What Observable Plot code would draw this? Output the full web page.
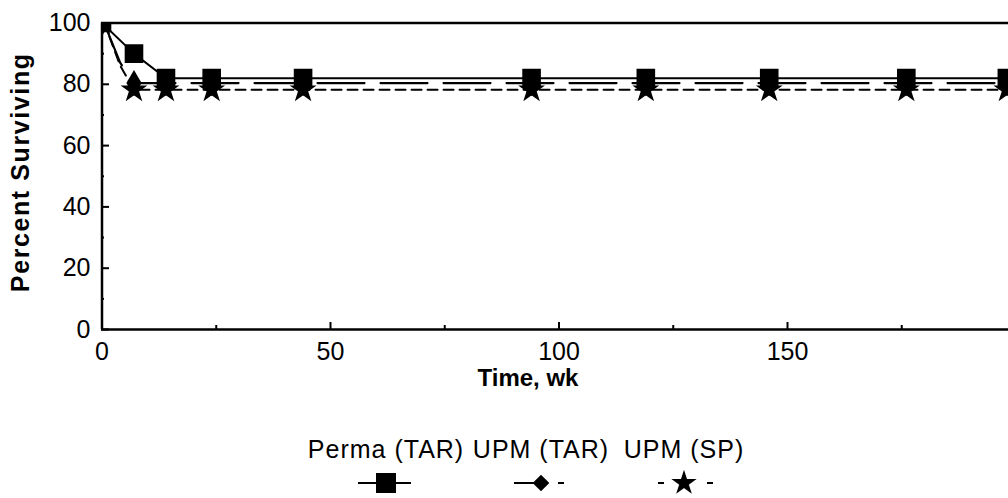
<!DOCTYPE html>
<html><head><meta charset="utf-8">
<script src="https://cdn.jsdelivr.net/npm/d3@7"></script>
<script src="https://cdn.jsdelivr.net/npm/@observablehq/plot@0.6"></script>
<style>
body{margin:0;background:#fff;font-family:"Liberation Sans",Arial,sans-serif;}
#wrap{position:relative;width:1008px;height:498px;overflow:hidden;background:#fff;}
#wrap svg{display:block;}
</style></head><body><div id="wrap"></div>
<script>
// ---- data ----
const seriesNames = ["Perma (TAR)", "UPM (TAR)", "UPM (SP)"];
const markerWeeks = [0, 7, 14, 24, 44, 94, 119, 146, 176, 198];
const permaTar = [100, 90, 82, 82, 82, 82, 82, 82, 82, 82];
const upmTar   = [100, 80.4, 80.4, 80.4, 80.4, 80.4, 80.4, 80.4, 80.4, 80.4];
const upmSp    = [100, 78.2, 78.2, 78.2, 78.2, 78.2, 78.2, 78.2, 78.2, 78.2];
// early part of the curves (no markers)
const earlyWeeks  = [1, 4];
const upmTarEarly = [98, 87];
const upmSpEarly  = [98, 86];
const yTicks = [0, 20, 40, 60, 80, 100];
const yMinor = [10, 30, 50, 70, 90];
const xTicks = [0, 50, 100, 150];
const xMinor = [25, 75, 125, 175];
const yLabel = "Percent Surviving";
const xLabel = "Time, wk";

// ---- build tables ----
const markers = (vals, s) => markerWeeks.map((w, i) => ({week: w, value: vals[i], series: s}));
const withEarly = (vals, early, s) => {
  const pts = markers(vals, s).concat(earlyWeeks.map((w, i) => ({week: w, value: early[i], series: s})));
  return pts.sort((a, b) => a.week - b.week);
};
const mPerma = markers(permaTar, seriesNames[0]);
const mTar = markers(upmTar, seriesNames[1]);
const mSp = markers(upmSp, seriesNames[2]);
const lPerma = mPerma;
const lTar = withEarly(upmTar, upmTarEarly, seriesNames[1]);
const lSp = withEarly(upmSp, upmSpEarly, seriesNames[2]);

const styles = {
  "Perma (TAR)": {dash: null, symbol: "square", r: 10.5},
  "UPM (TAR)":   {dash: "47,16", symbol: "diamond", r: 8},
  "UPM (SP)":    {dash: "10,6", symbol: "star", r: 7}
};

const chart = Plot.plot({
  width: 1008, height: 410,
  marginLeft: 101, marginRight: 0, marginTop: 22.5, marginBottom: 81,
  x: {domain: [0, 200], range: [101.5, 1015.5]},
  y: {domain: [0, 100], range: [329, 22.5]},
  style: {fontFamily: "'Liberation Sans', Arial, sans-serif", fontSize: "25px", color: "black", background: "white"},
  marks: [
    Plot.axisY({ticks: yTicks, tickSize: 0, tickPadding: 11, label: null, fontSize: 25}),
    Plot.axisY({ticks: yTicks, tickSize: -8, text: null, label: null, strokeWidth: 2}),
    Plot.axisY({ticks: yMinor, tickSize: -3, text: null, label: null, strokeWidth: 2}),
    Plot.axisX({ticks: xTicks, tickSize: 0, tickPadding: 13, label: null, fontSize: 25}),
    Plot.axisX({ticks: xTicks, tickSize: -7, text: null, label: null, strokeWidth: 2}),
    Plot.axisX({ticks: xMinor, tickSize: -4, text: null, label: null, strokeWidth: 2}),
    Plot.ruleX([0], {stroke: "black", strokeWidth: 2.5}),
    Plot.ruleY([0], {stroke: "black", strokeWidth: 2.5}),
    Plot.ruleY([100], {stroke: "black", strokeWidth: 2.5}),
    Plot.line(lSp, {x: "week", y: "value", stroke: "black", strokeWidth: 2, strokeDasharray: styles["UPM (SP)"].dash, clip: true}),
    Plot.line(lTar, {x: "week", y: "value", stroke: "black", strokeWidth: 2.2, strokeDasharray: styles["UPM (TAR)"].dash, clip: true}),
    Plot.line(lPerma, {x: "week", y: "value", stroke: "black", strokeWidth: 2, clip: true}),
    Plot.dot(mSp, {x: "week", y: "value", symbol: () => "star", r: styles["UPM (SP)"].r, fill: "black", stroke: "black", strokeWidth: 1.5, clip: true}),
    Plot.dot(mTar, {x: "week", y: "value", symbol: () => "diamond", r: styles["UPM (TAR)"].r, fill: "black", clip: true}),
    Plot.dot(mPerma, {x: "week", y: "value", symbol: () => "square", r: styles["Perma (TAR)"].r, fill: "black", clip: true}),
    Plot.text([yLabel], {text: d => d, frameAnchor: "left", textAnchor: "middle", dx: -81, dy: -4, rotate: -90, fontWeight: "bold", fontSize: 25}),
    Plot.text([xLabel], {text: d => d, frameAnchor: "bottom", textAnchor: "middle", dx: -27, dy: 56, fontWeight: "bold", fontSize: 24})
  ]
});
d3.select(chart).selectAll("text").filter(function(){ return this.textContent === yLabel; })
  .attr("letter-spacing", "1.6px");
document.getElementById("wrap").appendChild(chart);

// ---- legend (below the plot) ----
const legendCenters = [386, 541, 684];
const legend = d3.select("#wrap").append("svg").attr("width", 1008).attr("height", 88)
  .style("font-family", "'Liberation Sans', Arial, sans-serif");
const symMap = {square: d3.symbolSquare, diamond: d3.symbolDiamond2, star: d3.symbolStar};
const legLines = {
  "Perma (TAR)": {x1: -28, x2: 25, dash: null},
  "UPM (TAR)": {x1: -27, x2: 24, dash: "30,14,6,200"},
  "UPM (SP)": {x1: -26, x2: 30, dash: "6,43,6,100"}
};
const legSize = {"UPM (TAR)": 7.5 * 7.5 * Math.PI, "UPM (SP)": 6.5 * 6.5 * Math.PI};
seriesNames.forEach((name, i) => {
  const g = legend.append("g").attr("transform", `translate(${legendCenters[i]},0)`);
  g.append("text").attr("x", 0).attr("y", 48).attr("text-anchor", "middle")
    .attr("font-size", 25).attr("letter-spacing", "1px").text(name);
  const L = legLines[name];
  g.append("line").attr("x1", L.x1).attr("x2", L.x2).attr("y1", 73).attr("y2", 73)
    .attr("stroke", "black").attr("stroke-width", 2).attr("stroke-dasharray", L.dash);
  const s = styles[name].symbol;
  const sz = s === "square" ? 20 * 20 : legSize[name];
  g.append("path").attr("transform", "translate(0,73)")
    .attr("d", d3.symbol(symMap[s], sz)()).attr("fill", "black")
    .attr("stroke", s === "star" ? "black" : null).attr("stroke-width", s === "star" ? 1.5 : null);
});
</script>
</body></html>
